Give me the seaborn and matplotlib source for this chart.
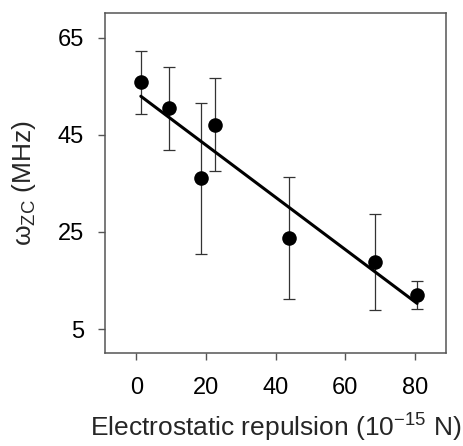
import numpy as np
import pandas as pd
import seaborn as sns
import matplotlib.pyplot as plt

# values
repulsion = [1.3, 9.3, 18.7, 22.5, 43.9, 68.5, 80.7]
omega_zc = [55.8, 50.4, 36.0, 47.1, 23.7, 18.8, 12.0]
omega_err = [6.5, 8.6, 15.6, 9.5, 12.5, 9.8, 2.8]

x_ticks = [0, 20, 40, 60, 80]
y_ticks = [5, 25, 45, 65]

df = pd.DataFrame({'repulsion': repulsion, 'omega': omega_zc, 'err': omega_err})

sns.set_style('ticks')
plt.rcParams['font.family'] = ['Liberation Sans', 'DejaVu Sans']
plt.rcParams['mathtext.fontset'] = 'custom'
plt.rcParams['mathtext.rm'] = 'Liberation Sans'
plt.rcParams['mathtext.it'] = 'Liberation Sans:italic'

fig = plt.figure(figsize=(4.64, 4.46), dpi=100)
ax = fig.add_axes([0.2263, 0.2078, 0.9612 - 0.2263, 0.9702 - 0.2078])

# error bars first, then the fit line and the points on top
ax.errorbar(df['repulsion'], df['omega'], yerr=df['err'], fmt='none',
            ecolor='#333333', elinewidth=0.9, capsize=4, capthick=0.9, zorder=2)
sns.regplot(data=df, x='repulsion', y='omega', ci=None, scatter=False,
            color='black', line_kws={'linewidth': 2.2}, ax=ax)
sns.scatterplot(data=df, x='repulsion', y='omega', color='black', s=110,
                edgecolor='black', linewidth=0, zorder=4, ax=ax)

ax.set_xlim(-9, 89)
ax.set_ylim(0, 70)
ax.set_xticks(x_ticks)
ax.set_yticks(y_ticks)

for s in ax.spines.values():
    s.set_visible(True)
    s.set_color('#555555')
    s.set_linewidth(1.1)

ax.tick_params(axis='both', direction='out', length=5, width=1, color='#555555',
               labelsize=17, labelcolor='black')
ax.tick_params(axis='x', pad=12)
ax.tick_params(axis='y', pad=10)

ax.set_xlabel(r'Electrostatic repulsion (10$^{\mathrm{-15}}$ N)', fontsize=19, labelpad=9)
ax.set_ylabel(r'$\mathrm{\omega_{ZC}}$ (MHz)', fontsize=19, labelpad=14)

fig.savefig('out.png', dpi=100)
